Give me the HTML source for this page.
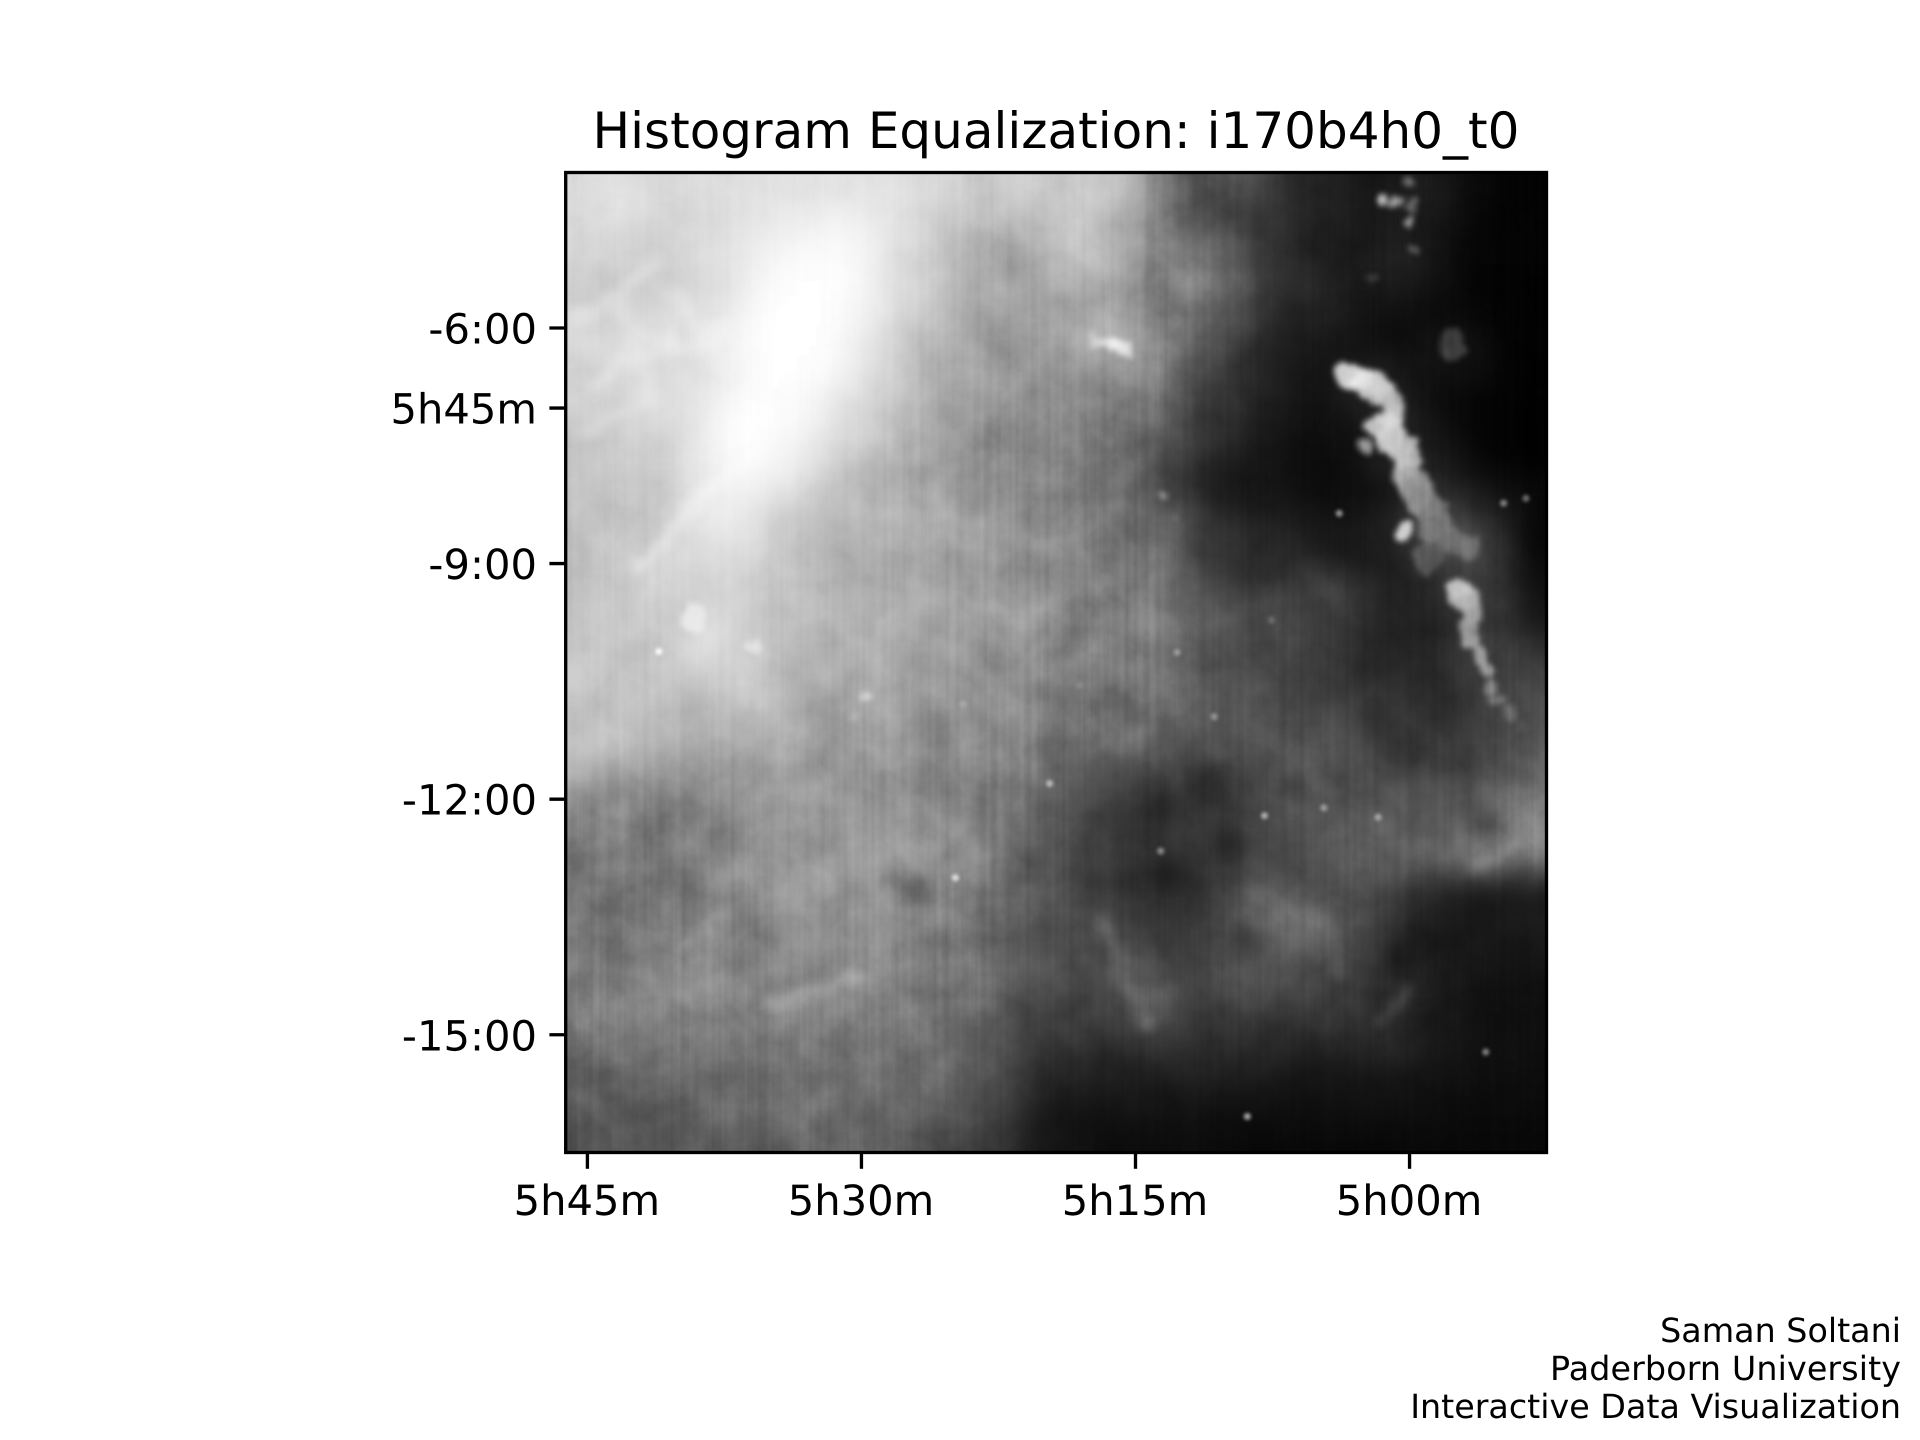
<!DOCTYPE html>
<html lang="en">
<head>
<meta charset="utf-8">
<title>Histogram Equalization: i170b4h0_t0</title>
<style>
html,body{margin:0;padding:0;background:#fff;}
body{width:1920px;height:1440px;overflow:hidden;}
svg{display:block;}
text{font-family:"DejaVu Sans","Liberation Sans",sans-serif;fill:#000;text-rendering:geometricPrecision;}
</style>
</head>
<body>
<svg id="fig" xmlns="http://www.w3.org/2000/svg" width="1920" height="1440" viewBox="0 0 1920 1440">
  <defs>
    <clipPath id="plot-clip"><rect x="565.7" y="172.5" width="980.8" height="980"/></clipPath>
    <filter id="blur-wide" filterUnits="userSpaceOnUse" x="300" y="-100" width="1500" height="1500" color-interpolation-filters="sRGB"><feGaussianBlur stdDeviation="15"/></filter>
    <filter id="blur-dust" filterUnits="userSpaceOnUse" x="300" y="-100" width="1500" height="1500" color-interpolation-filters="sRGB"><feGaussianBlur stdDeviation="9"/></filter>
    <filter id="cloud-shape" filterUnits="userSpaceOnUse" x="300" y="-100" width="1500" height="1500" color-interpolation-filters="sRGB">
      <feTurbulence type="fractalNoise" baseFrequency="0.035" numOctaves="3" seed="4" result="n"/>
      <feDisplacementMap in="SourceGraphic" in2="n" scale="22" xChannelSelector="R" yChannelSelector="G"/>
      <feGaussianBlur stdDeviation="3"/>
    </filter>
    <filter id="filament-shape" filterUnits="userSpaceOnUse" x="300" y="-100" width="1500" height="1500" color-interpolation-filters="sRGB">
      <feTurbulence type="fractalNoise" baseFrequency="0.03" numOctaves="3" seed="9" result="n"/>
      <feDisplacementMap in="SourceGraphic" in2="n" scale="26" xChannelSelector="R" yChannelSelector="G"/>
      <feGaussianBlur stdDeviation="5"/>
    </filter>
    <filter id="blur-star" filterUnits="userSpaceOnUse" x="300" y="-100" width="1500" height="1500" color-interpolation-filters="sRGB"><feGaussianBlur stdDeviation="1.8"/></filter>
    <filter id="mottle" filterUnits="userSpaceOnUse" x="560" y="170" width="992" height="990" color-interpolation-filters="sRGB">
      <feTurbulence type="fractalNoise" baseFrequency="0.022" numOctaves="4" seed="7"/>
      <feColorMatrix type="matrix" values="1.2 0 0 0 -0.15  1.2 0 0 0 -0.15  1.2 0 0 0 -0.15  0 0 0 0 1"/>
    </filter>
    <filter id="streaks" filterUnits="userSpaceOnUse" x="560" y="170" width="992" height="990" color-interpolation-filters="sRGB">
      <feTurbulence type="fractalNoise" baseFrequency="0.16 0.003" numOctaves="2" seed="3"/>
      <feColorMatrix type="matrix" values="1.2 0 0 0 -0.15  1.2 0 0 0 -0.15  1.2 0 0 0 -0.15  0 0 0 0 1"/>
    </filter>
  </defs>
  <rect x="0" y="0" width="1920" height="1440" fill="#ffffff"/>
  <g id="image-layer" clip-path="url(#plot-clip)" style="isolation:isolate">
    <g id="cells" filter="url(#blur-wide)"></g>
    <g id="dust" filter="url(#blur-dust)"></g>
    <g id="filaments" filter="url(#filament-shape)"></g>
    <g id="clouds" filter="url(#cloud-shape)"></g>
    <rect x="565.7" y="172.5" width="980.8" height="980" filter="url(#mottle)" style="mix-blend-mode:overlay" opacity="0.2"/>
    <rect x="565.7" y="172.5" width="980.8" height="980" filter="url(#streaks)" style="mix-blend-mode:overlay" opacity="0.08"/>
    <g id="stars" filter="url(#blur-star)"></g>
  </g>
  <rect x="565.7" y="172.5" width="980.8" height="980" fill="none" stroke="#000" stroke-width="3.33"/>
  <g id="x-axis"></g>
  <g id="y-axis"></g>
  <text x="1056" y="148" font-size="50" text-anchor="middle">Histogram Equalization: i170b4h0_t0</text>
  <text x="1901" y="1342" font-size="33.33" text-anchor="end">Saman Soltani</text>
  <text x="1901" y="1380" font-size="33.33" text-anchor="end" textLength="351">Paderborn University</text>
  <text x="1901" y="1418" font-size="33.33" text-anchor="end">Interactive Data Visualization</text>
</svg>
<script>
// Tick values and labels
const xTickRa = [345, 330, 315, 300];
const xTickLabels = ["5h45m", "5h30m", "5h15m", "5h00m"];
const yTickDec = [-6, -7.02, -9, -12, -15];
const yTickLabels = ["-6:00", "5h45m", "-9:00", "-12:00", "-15:00"];

// Coarse brightness of the sky image, top row first, left column first
const imageRows = [
[219,224,222,219,220,222,226,226,228,228,226,222,215,205,205,205,205,200,190,120,85,80,70,50,35,25,20,30,25,10,4,2],
[219,222,219,216,219,226,232,238,240,240,234,220,200,192,187,192,197,195,170,110,85,75,60,45,30,25,25,30,20,8,3,2],
[214,214,210,210,214,228,240,250,252,250,235,212,194,179,174,179,199,192,162,120,120,90,60,45,30,25,25,30,20,6,3,2],
[206,206,211,211,215,232,250,255,255,250,230,209,189,169,164,169,184,174,154,140,150,110,60,50,40,30,25,30,15,5,2,1],
[204,211,218,221,222,240,255,255,255,248,226,206,186,168,163,163,173,168,148,130,120,95,55,40,35,25,18,15,8,4,2,1],
[218,218,221,224,228,245,255,255,255,242,220,198,178,158,156,158,163,176,180,125,90,75,45,30,25,18,12,10,25,20,3,1],
[211,214,218,218,225,245,255,255,252,234,213,190,173,156,150,153,156,158,153,125,80,60,38,25,18,30,35,20,12,15,4,1],
[211,218,221,221,235,252,255,252,240,224,203,183,166,153,146,146,146,140,128,100,70,55,35,22,15,25,40,30,10,4,2,1],
[204,208,211,218,238,255,255,248,232,212,195,176,160,150,140,136,130,126,113,90,62,42,28,18,12,15,30,35,20,6,2,1],
[198,201,204,214,238,252,250,238,218,198,186,170,158,148,138,130,123,116,106,80,50,32,22,15,10,12,25,40,30,10,3,1],
[196,198,201,211,234,245,235,215,198,188,180,173,163,153,140,130,123,113,103,85,40,25,18,22,10,12,15,35,50,35,15,8],
[194,196,201,211,232,234,220,200,188,184,180,176,166,158,153,138,128,116,108,105,60,40,35,30,20,20,30,45,70,70,40,5],
[194,198,206,216,226,222,208,194,184,181,178,173,166,158,153,143,133,123,120,110,75,55,45,40,30,25,25,45,70,80,50,8],
[196,201,208,211,214,212,200,190,183,180,178,173,166,158,153,146,138,130,126,113,85,68,60,60,70,60,40,28,45,60,50,15],
[198,201,204,204,222,220,200,187,183,180,178,173,166,158,153,146,138,130,126,117,100,80,70,75,70,55,35,30,35,60,55,20],
[201,201,201,204,224,215,198,185,180,177,176,168,163,156,148,140,133,128,126,120,105,88,75,70,55,45,35,35,40,55,60,45],
[204,201,198,198,207,208,198,185,177,170,166,158,158,153,146,138,130,126,126,117,102,88,78,70,60,50,42,42,45,55,65,70],
[198,196,194,191,192,198,193,175,165,170,168,148,153,148,140,130,123,120,118,110,95,85,80,75,70,58,50,50,48,55,70,75],
[194,194,190,182,174,178,184,165,155,160,150,143,143,140,133,126,118,116,113,100,88,85,85,85,85,75,62,55,52,55,70,95],
[182,178,165,155,152,155,162,152,150,150,145,137,137,134,127,114,95,85,75,72,72,72,76,82,92,82,70,62,60,65,80,105],
[145,138,135,132,132,140,150,152,152,150,148,145,142,135,122,100,78,62,55,55,60,62,72,85,92,90,88,80,80,90,100,125],
[128,128,125,122,130,140,150,155,158,158,155,150,145,135,120,92,72,60,52,50,52,55,65,78,85,90,92,90,95,105,125,135],
[123,123,126,126,136,148,150,155,160,165,165,160,145,130,112,85,70,62,52,45,48,52,62,75,80,90,100,100,100,110,120,120],
[116,116,116,118,130,143,148,150,155,160,158,140,140,125,108,88,72,62,52,45,50,78,90,100,95,85,70,50,35,28,25,25],
[116,116,114,116,128,140,142,145,148,150,140,128,130,118,100,88,72,80,62,52,52,70,88,105,95,85,60,38,26,24,24,26],
[123,123,123,120,128,138,138,138,142,145,135,128,125,112,98,85,72,80,88,62,62,80,85,95,90,75,52,35,25,22,22,25],
[133,133,138,138,143,138,135,140,148,145,135,130,122,105,92,80,70,68,90,82,70,75,78,85,75,60,50,35,25,18,15,15],
[126,128,136,143,138,136,132,135,130,130,128,125,112,104,90,72,62,62,72,82,62,62,60,55,50,55,45,40,28,18,14,14],
[114,118,121,121,124,121,118,122,122,120,118,112,104,95,80,50,50,48,48,52,48,45,42,38,35,40,38,35,25,20,15,14],
[100,104,106,106,108,108,112,115,118,118,112,106,100,90,72,38,35,32,30,30,30,28,28,25,22,22,22,20,18,14,12,12],
[95,98,100,102,102,105,106,110,112,112,108,100,92,76,60,28,22,20,20,20,18,15,16,15,14,14,14,14,12,10,10,10],
[84,84,88,90,90,94,98,100,102,102,96,88,78,62,45,22,16,14,12,12,12,10,8,8,8,8,8,8,8,8,8,8]
];

// Extended bright clouds: right ascension (minutes), declination (deg), brightness, extent (deg)
const cloudRa = [303.22,302.60,302.00,301.48,300.96,301.13,301.48,300.96,300.43,302.35,300.08,300.26,299.73,299.56,299.21,298.69,298.16,297.64,296.94,299.04,300.43,297.29,297.12,296.59,296.77,296.59,296.24,295.90,295.48,295.02,294.50,293.80,301.48,300.78,300.08,300.08,300.15,299.73,302.0,297.64,317.18,316.66,316.14,315.61,315.26,313.35,312.65,329.75,330.45,335.86,339.17,336.55,335.68];
const cloudDec = [-6.63,-6.67,-6.71,-6.83,-6.95,-7.11,-7.28,-7.40,-7.48,-7.52,-7.68,-7.85,-7.97,-8.13,-8.29,-8.49,-8.62,-8.70,-8.78,-8.94,-8.60,-9.31,-9.44,-9.59,-9.79,-10.0,-10.20,-10.36,-10.56,-10.73,-10.89,-11.05,-4.31,-4.38,-4.15,-4.475,-4.64,-5.00,-5.33,-6.22,-6.12,-6.16,-6.22,-6.26,-6.30,-8.13,-8.41,-10.69,-10.93,-10.0,-9.67,-10.48,-10.81];
const cloudLevel = [240,235,225,210,190,200,225,220,205,190,195,195,170,150,140,125,120,115,115,95,240,220,200,180,170,170,170,175,150,130,120,100,225,170,130,120,180,110,70,75,215,230,250,245,235,190,150,220,190,230,240,210,200];
const cloudExtent = [.18,.17,.19,.18,.18,.18,.18,.20,.23,.10,.20,.19,.20,.19,.22,.24,.25,.24,.20,.20,.11,.14,.15,.15,.12,.11,.11,.11,.09,.09,.10,.08,.07,.07,.07,.08,.06,.07,.08,.18,.08,.09,.10,.09,.07,.06,.03,.08,.06,.11,.20,.07,.06];

// Point sources: right ascension (minutes), declination (deg), brightness
const starRa = [303.85,294.85,293.63,341.09,308.88,324.86,307.94,304.69,301.72,319.70,310.69,312.72,295.83,307.55,313.62,324.44,318.06,324.16];
const starDec = [-8.36,-8.23,-8.17,-10.12,-16.04,-13.00,-12.21,-12.11,-12.23,-11.80,-10.95,-10.13,-15.22,-9.72,-12.66,-10.79,-10.55,-10.55];
const starLevel = [150,130,110,255,170,225,180,160,170,190,150,160,130,110,140,170,140,150];

// Dark dust lanes: right ascension (minutes), declination (deg), brightness, extent (deg)
const dustRa = [311.1,313.8,309.8,313.2,306.4,327.2,328.2,308.9,300.5,298.7,295.8];
const dustDec = [-11.81,-12.11,-12.55,-12.93,-11.82,-13.16,-12.94,-13.79,-14.05,-14.8,-12.3];
const dustLevel = [38,40,30,35,40,95,100,45,22,18,40];
const dustExtent = [.28,.22,.20,.18,.15,.18,.12,.20,.20,.15,.12];

// Filament traces: one right-ascension list and one declination list per filament
const filamentRa = [
[334.98,332.54,330.10],
[328.0,325.91,323.47,321.37,319.63],
[316.83,315.79,314.39],
[296.59,294.15,292.58],
[345.8,343.36,341.27],
[341.96,339.52,337.43],
[308.46,306.02,303.92,303.92],
[339.52,340.92,337.43],
[301.48,300.08],
[315.79,313.35],
[344.75,342.31,340.22],
[343.01,341.96,341.61],
[340.22,338.47,336.73],
[345.80,343.36,341.27],
[334.98,337.78,340.22,342.31]
];
const filamentDec = [
[-14.58,-14.42,-14.26],
[-7.89,-8.21,-8.54,-8.62,-8.86],
[-13.57,-14.22,-14.79],
[-12.84,-12.68,-12.51],
[-5.94,-5.61,-5.21],
[-6.10,-6.26,-6.02],
[-13.16,-13.45,-13.65,-14.22],
[-14.62,-13.98,-13.49],
[-14.87,-14.46],
[-14.46,-14.46],
[-6.67,-6.42,-6.10],
[-5.69,-6.34,-6.83],
[-5.53,-6.26,-6.67],
[-7.40,-7.15,-6.91],
[-7.40,-7.89,-8.54,-9.02]
];
const filamentLevel = [200,190,150,165,248,248,125,165,115,125,245,240,245,240,255];

const NS = "http://www.w3.org/2000/svg";
const plotLeft = 565.7, plotRight = 1546.5, plotTop = 172.5, plotBottom = 1152.5;
function xScale(ra) { return 587.4 + (345 - ra) * 18.27; }
function yScale(dec) { return 328 + (-6 - dec) * 78.53; }
function gray(v) { return "rgb(" + v + "," + v + "," + v + ")"; }
function make(tag, parent) {
  const el = document.createElementNS(NS, tag);
  parent.appendChild(el);
  return el;
}

// Image cells
const cellsLayer = document.getElementById("cells");
const rowCount = imageRows.length;
const colCount = imageRows[0].length;
const cellW = (plotRight - plotLeft) / colCount;
const cellH = (plotBottom - plotTop) / rowCount;
imageRows.forEach(function (row, r) {
  row.forEach(function (v, c) {
    const cell = make("rect", cellsLayer);
    
    
    const x0 = c === 0 ? plotLeft - 80 : plotLeft + c * cellW;
    const x1 = c === colCount - 1 ? plotRight + 80 : plotLeft + (c + 1) * cellW + 0.6;
    const y0 = r === 0 ? plotTop - 80 : plotTop + r * cellH;
    const y1 = r === rowCount - 1 ? plotBottom + 80 : plotTop + (r + 1) * cellH + 0.6;
    cell.setAttribute("x", x0);
    cell.setAttribute("y", y0);
    cell.setAttribute("width", x1 - x0);
    cell.setAttribute("height", y1 - y0);
    cell.setAttribute("fill", gray(v));
  });
});

// Dust lanes
const dustLayer = document.getElementById("dust");
dustRa.forEach(function (ra, i) {
  const d = make("circle", dustLayer);
  
  
  d.setAttribute("cx", xScale(ra));
  d.setAttribute("cy", yScale(dustDec[i]));
  d.setAttribute("r", dustExtent[i] * 78.53);
  d.setAttribute("fill", gray(dustLevel[i]));
  d.setAttribute("opacity", "0.85");
});

// Filaments, smoothed through the midpoints of each trace
const filamentLayer = document.getElementById("filaments");
filamentRa.forEach(function (raList, i) {
  const f = make("path", filamentLayer);
  
  
  const xs = raList.map(xScale);
  const ys = filamentDec[i].map(yScale);
  let d = "M" + xs[0].toFixed(1) + " " + ys[0].toFixed(1);
  for (let j = 1; j < xs.length - 1; j++) {
    const mx = (xs[j] + xs[j + 1]) / 2;
    const my = (ys[j] + ys[j + 1]) / 2;
    d += " Q" + xs[j].toFixed(1) + " " + ys[j].toFixed(1) + " " + mx.toFixed(1) + " " + my.toFixed(1);
  }
  d += " L" + xs[xs.length - 1].toFixed(1) + " " + ys[ys.length - 1].toFixed(1);
  f.setAttribute("d", d);
  f.setAttribute("fill", "none");
  f.setAttribute("stroke", gray(filamentLevel[i]));
  f.setAttribute("stroke-width", "13");
  f.setAttribute("stroke-linecap", "round");
  f.setAttribute("opacity", "0.38");
});

// Bright clouds
const cloudLayer = document.getElementById("clouds");
cloudRa.forEach(function (ra, i) {
  const c = make("circle", cloudLayer);
  
  
  c.setAttribute("cx", xScale(ra));
  c.setAttribute("cy", yScale(cloudDec[i]));
  c.setAttribute("r", cloudExtent[i] * 78.53);
  c.setAttribute("fill", gray(cloudLevel[i]));
  c.setAttribute("opacity", "0.85");
});

// Point sources
const starLayer = document.getElementById("stars");
starRa.forEach(function (ra, i) {
  const s = make("circle", starLayer);
  
  
  s.setAttribute("cx", xScale(ra));
  s.setAttribute("cy", yScale(starDec[i]));
  s.setAttribute("r", 3.5);
  s.setAttribute("fill", gray(starLevel[i]));
});

// X axis
const xAxis = document.getElementById("x-axis");
xTickRa.forEach(function (ra, i) {
  const x = xScale(ra);
  const tick = make("line", xAxis);
  
  
  tick.setAttribute("x1", x);
  tick.setAttribute("x2", x);
  tick.setAttribute("y1", plotBottom);
  tick.setAttribute("y2", plotBottom + 16.3);
  tick.setAttribute("stroke", "#000");
  tick.setAttribute("stroke-width", "3.33");
  const label = make("text", xAxis);
  
  
  label.setAttribute("x", x - 0.5);
  label.setAttribute("y", 1215);
  label.setAttribute("font-size", "41.67");
  label.setAttribute("text-anchor", "middle");
  label.textContent = xTickLabels[i];
});

// Y axis
const yAxis = document.getElementById("y-axis");
yTickDec.forEach(function (dec, i) {
  const y = yScale(dec);
  const tick = make("line", yAxis);
  
  
  tick.setAttribute("x1", plotLeft);
  tick.setAttribute("x2", plotLeft - 16.3);
  tick.setAttribute("y1", y);
  tick.setAttribute("y2", y);
  tick.setAttribute("stroke", "#000");
  tick.setAttribute("stroke-width", "3.33");
  const label = make("text", yAxis);
  
  
  label.setAttribute("x", 537);
  label.setAttribute("y", y + 15.5);
  label.setAttribute("font-size", "41.67");
  label.setAttribute("text-anchor", "end");
  label.textContent = yTickLabels[i];
});
</script>
</body>
</html>
